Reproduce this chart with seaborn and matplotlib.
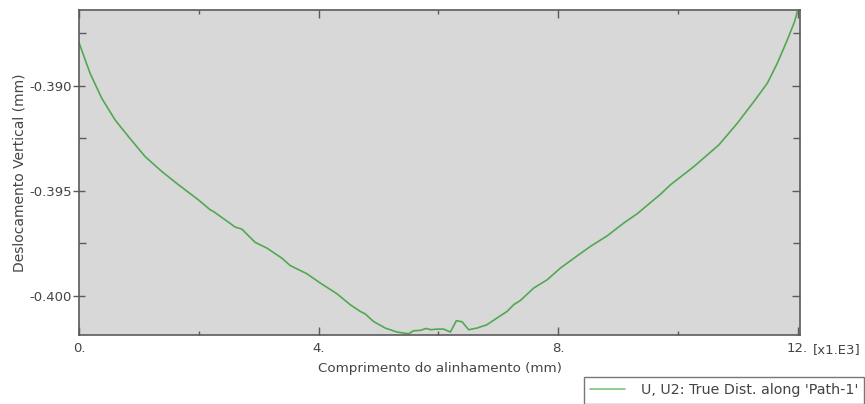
import matplotlib
matplotlib.use("Agg")
import matplotlib.pyplot as plt
import matplotlib.transforms as mtransforms
from matplotlib.ticker import FixedLocator, FuncFormatter
import seaborn as sns
import pandas as pd

# Path distance along the alignment (mm) and vertical displacement U2 (mm)
distance_mm = [
    0, 184, 379, 602, 824, 1103, 1382, 1660, 1994, 2190, 2245, 2607, 2719,
    2942, 3137, 3388, 3527, 3806, 4028, 4307, 4529, 4697, 4780, 4919, 5114,
    5310, 5504, 5587, 5699, 5800, 5878, 5979, 6089, 6201, 6301, 6397, 6507,
    6647, 6814, 6981, 7149, 7259, 7371, 7593, 7817, 8039, 8319, 8541, 8820,
    9097, 9321, 9711, 9878, 10267, 10685, 10993, 11270, 11494, 11661, 11828,
    11950, 11995,
]
displacement_mm = [
    -0.38796, -0.38941, -0.39060, -0.39163, -0.39242, -0.39337, -0.39408,
    -0.39471, -0.39543, -0.39590, -0.39598, -0.39672, -0.39682, -0.39745,
    -0.39772, -0.39820, -0.39855, -0.39894, -0.39938, -0.39989, -0.40041,
    -0.40073, -0.40085, -0.40121, -0.40152, -0.40171, -0.40179, -0.40165,
    -0.40163, -0.40154, -0.40160, -0.40157, -0.40157, -0.40171, -0.40117,
    -0.40122, -0.40160, -0.40152, -0.40136, -0.40104, -0.40073, -0.40041,
    -0.40021, -0.39962, -0.39923, -0.39867, -0.39809, -0.39764, -0.39714,
    -0.39653, -0.39609, -0.39516, -0.39471, -0.39385, -0.39282, -0.39179,
    -0.39076, -0.38989, -0.38894, -0.38783, -0.38696, -0.38649,
]
series_label = "U, U2: True Dist. along 'Path-1'"
x_major = [0, 4000, 8000, 12000]
x_minor = [2000, 6000, 10000]
y_major = [-0.400, -0.395, -0.390]
y_minor = [-0.3975, -0.3925, -0.3875]

df = pd.DataFrame({"dist": distance_mm, "u2": displacement_mm})

sns.set_style("ticks")
plt.rcParams["font.family"] = ["DejaVu Sans"]
text_color = "#444444"
spine_color = "#5a5a5a"

fig = plt.figure(figsize=(8.65, 4.04), dpi=100)
ax = fig.add_axes([79 / 865, 1 - 335 / 404, (800 - 79) / 865, (335 - 10) / 404])
ax.set_facecolor("#d8d8d8")

sns.lineplot(data=df, x="dist", y="u2", ax=ax, color="#52a852", linewidth=1.2,
             label=series_label, legend=False)

ax.set_xlim(0, 12040)
ax.set_ylim(-0.40185, -0.38641)

ax.xaxis.set_major_locator(FixedLocator(x_major))
ax.xaxis.set_minor_locator(FixedLocator(x_minor))
ax.yaxis.set_major_locator(FixedLocator(y_major))
ax.yaxis.set_minor_locator(FixedLocator(y_minor))
ax.xaxis.set_major_formatter(FuncFormatter(lambda v, p: f"{v / 1000:.0f}."))
ax.yaxis.set_major_formatter(FuncFormatter(lambda v, p: f"{v:.3f}"))

for s in ax.spines.values():
    s.set_color(spine_color)
    s.set_linewidth(1.2)
    s.set_visible(True)

ax.tick_params(axis="both", which="both", colors=spine_color, labelcolor=text_color,
               labelsize=9.5, width=1.0)
ax.tick_params(axis="y", which="major", direction="inout", length=9, left=True,
               right=True, pad=0.5)
ax.tick_params(axis="y", which="minor", direction="in", length=5, left=True, right=True)
ax.tick_params(axis="x", which="major", direction="in", length=6, top=True, bottom=True, pad=5)
ax.tick_params(axis="x", which="minor", direction="in", length=3, top=True, bottom=True)
for t in ax.yaxis.get_major_ticks():
    t.tick2line.set_markersize(6)
    t.tick2line.set_marker(matplotlib.lines.TICKLEFT)

ax.set_xlabel("Comprimento do alinhamento (mm)", fontsize=9.7, color=text_color, labelpad=5)
ax.set_ylabel("Deslocamento Vertical (mm)", fontsize=10, color=text_color, labelpad=2)

# scale-factor note beside the last x tick label
trans = mtransforms.blended_transform_factory(ax.transData, ax.transAxes)
ax.annotate("[x1.E3]", xy=(12000, 0), xycoords=trans, xytext=(11, -6),
            textcoords="offset points", ha="left", va="top", fontsize=9.5,
            color=text_color)

leg = fig.legend(handles=ax.get_lines(), labels=[series_label],
                 loc="upper left", bbox_to_anchor=(584 / 865, 1 - 377 / 404),
                 frameon=True, fancybox=False, fontsize=10.3, handlelength=2.4,
                 handletextpad=1.1, borderaxespad=0, borderpad=0.45,
                 labelcolor=text_color)
leg.get_frame().set_edgecolor("#555555")
leg.get_frame().set_linewidth(1.0)
leg.get_lines()[0].set_color("#7cc47c")

fig.savefig("out.png", dpi=100)
